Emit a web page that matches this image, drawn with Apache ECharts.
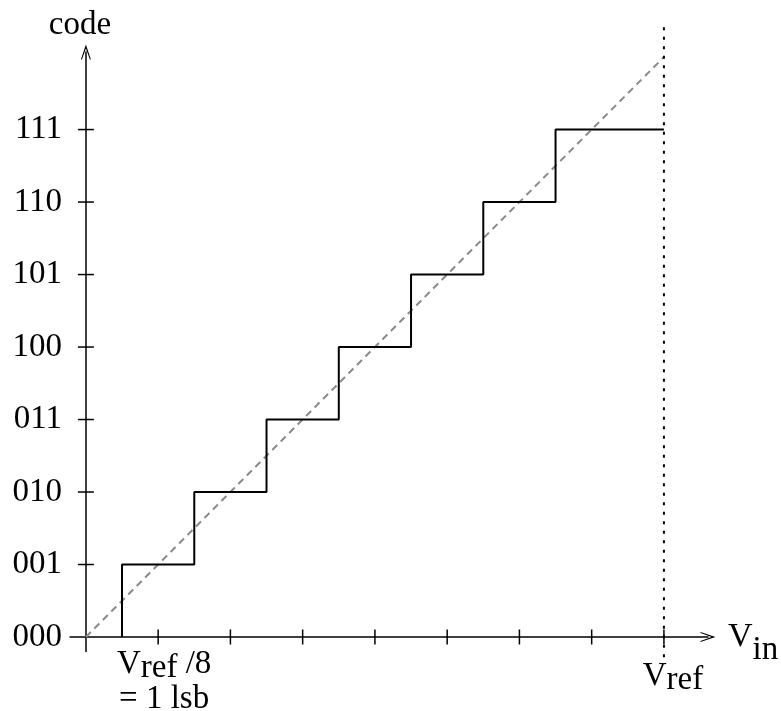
<!DOCTYPE html>
<html>
<head>
<meta charset="utf-8">
<script src="https://cdn.jsdelivr.net/npm/echarts@6/dist/echarts.min.js"></script>
<style>
html, body { margin: 0; padding: 0; background: #fff; }
#chart { width: 781px; height: 711px; }
</style>
</head>
<body>
<div id="chart"></div>
<script>
// 3 bit ADC transfer curve, x in lsb units (Vref = 8 lsb)
var codeLabels = ['000', '001', '010', '011', '100', '101', '110', '111']
var codeValues = [0, 1, 2, 3, 4, 5, 6, 7]
var codeTicks = [1, 2, 3, 4, 5, 6, 7]
var vinTicks = [1, 2, 3, 4, 5, 6, 7, 8]
var stepVin = [0.5, 1.5, 2.5, 3.5, 4.5, 5.5, 6.5, 8]
var stepCode = [0, 1, 2, 3, 4, 5, 6, 7]
var idealVin = [0, 8]
var idealCode = [0, 8]
var vrefVin = [8, 8]
var vrefCode = [-0.28, 8.41]

var font = 'Liberation Serif'
var fs = 33

function zip(a, b) {
  var out = []
  for (var i = 0; i < a.length; i++) out.push([a[i], b[i]])
  return out
}

var arrow = 'path://M5,0 L10,15 L9,15 L5,4 L1,15 L0,15 Z'

var chart = echarts.init(document.getElementById('chart'))

var subRich = {
  v: { fontFamily: font, fontSize: fs, color: '#000', lineHeight: 35 },
  s: { fontFamily: font, fontSize: fs, color: '#000', lineHeight: 35, padding: [8, 0, 0, 0] },
  t: { fontFamily: font, fontSize: fs, color: '#000', lineHeight: 35 }
}

var tickData = vinTicks.map(function (v) {
  var item = { value: [v, 0] }
  if (v === 1) {
    item.label = {
      show: true,
      position: 'bottom',
      distance: 2,
      offset: [6, 0],
      formatter: '{v|V}{s|ref}{t| /8}\n{t|= 1 lsb}',
      rich: subRich
    }
  }
  if (v === 8) {
    item.label = {
      show: true,
      position: 'bottom',
      distance: 14,
      offset: [9, 0],
      formatter: '{v|V}{s|ref}',
      rich: subRich
    }
  }
  return item
})

chart.setOption({
  animation: false,
  grid: { left: 70, right: 73, top: 52, bottom: 59.5, containLabel: false, outerBoundsMode: 'none' },
  xAxis: {
    type: 'value',
    min: -0.22,
    max: 8.61,
    name: '{v|V}{s|in}',
    nameLocation: 'end',
    nameGap: 20,
    nameTextStyle: {
      rich: {
        v: { fontFamily: font, fontSize: 34, color: '#000', lineHeight: 34 },
        s: { fontFamily: font, fontSize: fs, color: '#000', lineHeight: 34, padding: [26, 0, 0, 0] }
      }
    },
    axisLine: {
      onZero: true,
      symbol: ['none', arrow],
      symbolSize: [10, 15],
      lineStyle: { color: '#000', width: 1.5 }
    },
    axisTick: { show: false },
    axisLabel: { show: false },
    splitLine: { show: false }
  },
  yAxis: {
    type: 'value',
    min: -0.2,
    max: 8.07,
    name: 'code',
    nameLocation: 'end',
    nameGap: 10,
    nameTextStyle: {
      fontFamily: font, fontSize: fs, color: '#000',
      padding: [0, 12, 0, 0]
    },
    axisLine: {
      onZero: true,
      symbol: ['none', arrow],
      symbolSize: [10, 15],
      lineStyle: { color: '#000', width: 1.5 }
    },
    axisTick: { show: false },
    axisLabel: {
      customValues: codeValues,
      margin: 8,
      fontFamily: font,
      fontSize: fs,
      color: '#000',
      formatter: function (v) { return codeLabels[v] }
    },
    splitLine: { show: false }
  },
  series: [
    {
      name: 'ideal',
      type: 'line',
      data: zip(idealVin, idealCode),
      symbol: 'none',
      silent: true,
      lineStyle: { color: '#8a8a8a', width: 2, type: [7, 5] }
    },
    {
      name: 'vref',
      type: 'line',
      data: zip(vrefVin, vrefCode),
      symbol: 'none',
      clip: false,
      silent: true,
      lineStyle: { color: '#000', width: 2, type: [3, 6.5] }
    },
    {
      name: 'adc',
      type: 'line',
      step: 'start',
      data: zip(stepVin, stepCode),
      symbol: 'none',
      silent: true,
      lineStyle: { color: '#000', width: 2 }
    },
    {
      name: 'vinTicks',
      type: 'scatter',
      data: tickData,
      symbol: 'rect',
      symbolSize: [1.5, 15],
      silent: true,
      itemStyle: { color: '#000', opacity: 1 }
    },
    {
      name: 'codeTicks',
      type: 'scatter',
      data: codeTicks.map(function (c) { return [0, c] }),
      symbol: 'rect',
      symbolSize: [16, 1.5],
      silent: true,
      itemStyle: { color: '#000', opacity: 1 }
    }
  ]
})
</script>
</body>
</html>
